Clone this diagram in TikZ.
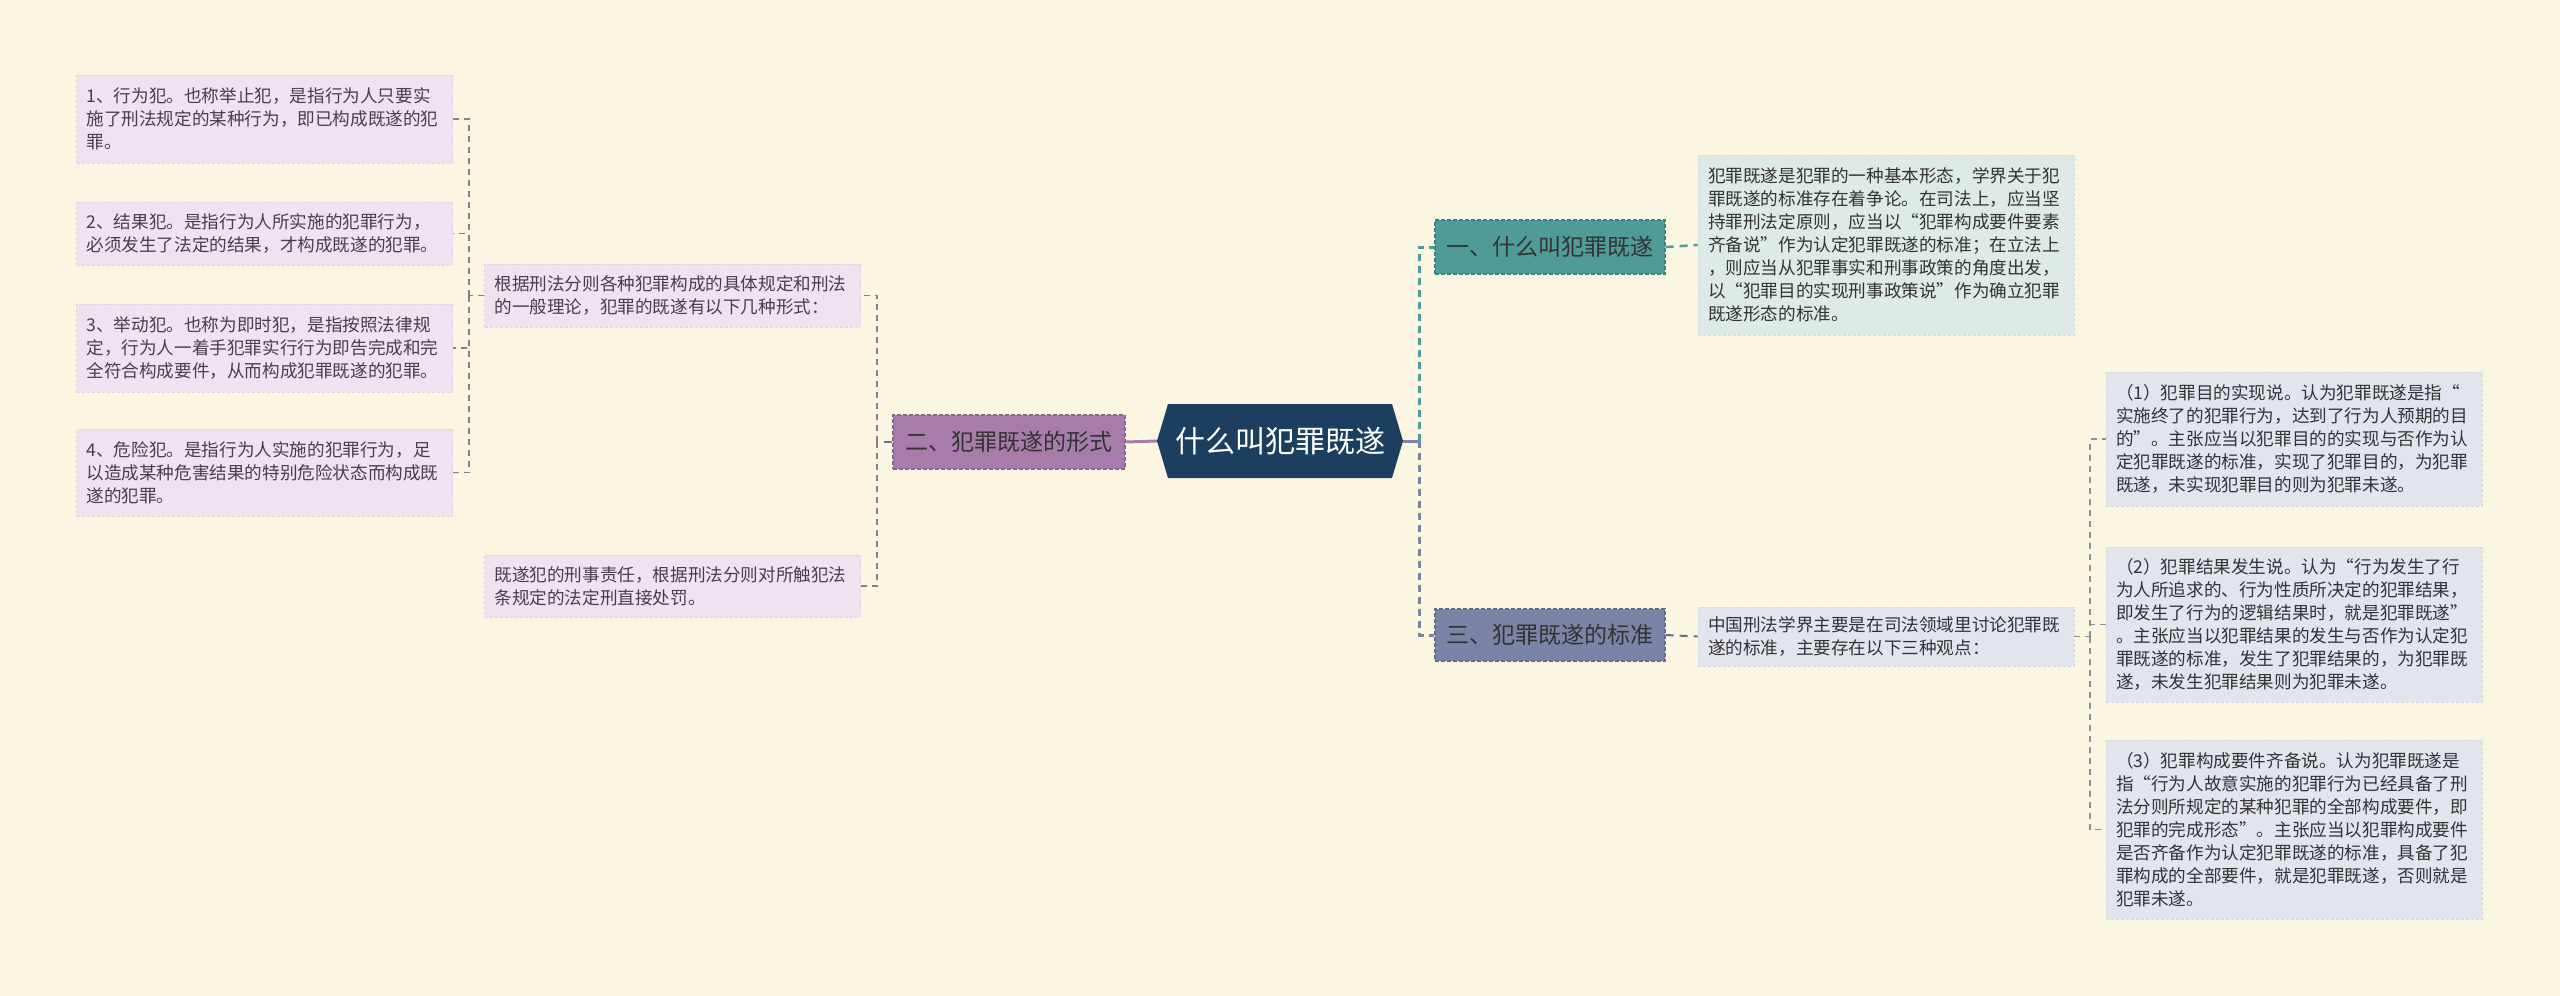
\documentclass[tikz,border=0pt]{standalone}
\usepackage{fontspec}
\setmainfont{Noto Sans CJK SC}
\definecolor{bgc}{HTML}{FBF6E1}
\definecolor{rootc}{HTML}{1C3F5F}
\definecolor{tealb}{HTML}{4F9B98}
\definecolor{teald}{HTML}{3F817E}
\definecolor{slateb}{HTML}{7B84A6}
\definecolor{slated}{HTML}{646D8E}
\definecolor{purpb}{HTML}{A77BAA}
\definecolor{purpd}{HTML}{8C6590}
\definecolor{lavc}{HTML}{EEE3EE}
\definecolor{lavd}{HTML}{E2D3E2}
\definecolor{lavt}{HTML}{4A3D4D}
\definecolor{ltealc}{HTML}{DDEAE8}
\definecolor{lteald}{HTML}{CFDFDD}
\definecolor{greyc}{HTML}{E3E5EE}
\definecolor{greyd}{HTML}{D5D8E3}
\definecolor{darkt}{HTML}{333333}
\definecolor{lconn}{HTML}{8C7B8E}
\definecolor{rconn}{HTML}{8A8F9E}
\begin{document}
\begin{tikzpicture}[x=1pt,y=-1pt,
  leafbase/.style={text width=356pt, inner xsep=10pt, inner ysep=0pt, align=left,
    font=\fontsize{17.6pt}{23pt}\selectfont, dash pattern=on 3pt off 2pt, line width=0.8pt},
  lfleft/.style={leafbase, fill=lavc, draw=lavd, text=lavt},
  lfteal/.style={leafbase, fill=ltealc, draw=lteald, text=darkt},
  lfgrey/.style={leafbase, fill=greyc, draw=greyd, text=darkt},
  branch/.style={minimum width=230pt, inner sep=0pt, font=\fontsize{23pt}{28pt}\selectfont,
    dash pattern=on 4pt off 2pt, line width=1.2pt, text=darkt},
  trunk/.style={line width=3pt, dash pattern=on 7pt off 5pt},
  thin/.style={line width=1.5pt, dash pattern=on 6pt off 5pt}
]
\fill[bgc] (0,0) rectangle (2560,996);
\useasboundingbox (0,0) rectangle (2560,996);

% root
\fill[rootc] (1168,404) -- (1392,404) -- (1403,441) -- (1392,478) -- (1168,478) -- (1157,441) -- cycle;
\node[minimum width=246pt, minimum height=74pt, inner sep=0pt, text=white,
  font=\fontsize{30pt}{34pt}\selectfont] (root) at (1280,441) {什么叫犯罪既遂};

% branches
\node[branch, fill=tealb, draw=teald, minimum height=54pt] (b1) at (1550,247) {一、什么叫犯罪既遂};
\node[branch, fill=slateb, draw=slated, minimum height=52pt] (b3) at (1550,635) {三、犯罪既遂的标准};
\node[branch, fill=purpb, draw=purpd, minimum width=232pt, minimum height=54pt] (b2) at (1009,442) {二、犯罪既遂的形式};

% right leaves
\node[lfteal, minimum height=180pt] (b1c) at (1886,245) {犯罪既遂是犯罪的一种基本形态，学界关于犯\\罪既遂的标准存在着争论。在司法上，应当坚\\持罪刑法定原则，应当以“犯罪构成要件要素\\齐备说”作为认定犯罪既遂的标准；在立法上\\，则应当从犯罪事实和刑事政策的角度出发，\\以“犯罪目的实现刑事政策说”作为确立犯罪\\既遂形态的标准。};
\node[lfgrey, minimum height=59pt] (b3c) at (1886,636.5) {中国刑法学界主要是在司法领域里讨论犯罪既\\遂的标准，主要存在以下三种观点：};
\node[lfgrey, minimum height=134pt] (p1) at (2294,439) {（1）犯罪目的实现说。认为犯罪既遂是指“\\实施终了的犯罪行为，达到了行为人预期的目\\的”。主张应当以犯罪目的的实现与否作为认\\定犯罪既遂的标准，实现了犯罪目的，为犯罪\\既遂，未实现犯罪目的则为犯罪未遂。};
\node[lfgrey, minimum height=155pt] (p2) at (2294,624.5) {（2）犯罪结果发生说。认为“行为发生了行\\为人所追求的、行为性质所决定的犯罪结果，\\即发生了行为的逻辑结果时，就是犯罪既遂”\\。主张应当以犯罪结果的发生与否作为认定犯\\罪既遂的标准，发生了犯罪结果的，为犯罪既\\遂，未发生犯罪结果则为犯罪未遂。};
\node[lfgrey, minimum height=179pt] (p3) at (2294,829.5) {（3）犯罪构成要件齐备说。认为犯罪既遂是\\指“行为人故意实施的犯罪行为已经具备了刑\\法分则所规定的某种犯罪的全部构成要件，即\\犯罪的完成形态”。主张应当以犯罪构成要件\\是否齐备作为认定犯罪既遂的标准，具备了犯\\罪构成的全部要件，就是犯罪既遂，否则就是\\犯罪未遂。};

% left leaves
\node[lfleft, minimum height=63pt] (c2a) at (672.5,295.5) {根据刑法分则各种犯罪构成的具体规定和刑法\\的一般理论，犯罪的既遂有以下几种形式：};
\node[lfleft, minimum height=62pt] (c2b) at (672.5,586) {既遂犯的刑事责任，根据刑法分则对所触犯法\\条规定的法定刑直接处罚。};
\node[lfleft, minimum height=88pt] (i1) at (264.5,119) {1、行为犯。也称举止犯，是指行为人只要实\\施了刑法规定的某种行为，即已构成既遂的犯\\罪。};
\node[lfleft, minimum height=63pt] (i2) at (264.5,233.5) {2、结果犯。是指行为人所实施的犯罪行为，\\必须发生了法定的结果，才构成既遂的犯罪。};
\node[lfleft, minimum height=88pt] (i3) at (264.5,348) {3、举动犯。也称为即时犯，是指按照法律规\\定，行为人一着手犯罪实行行为即告完成和完\\全符合构成要件，从而构成犯罪既遂的犯罪。};
\node[lfleft, minimum height=87pt] (i4) at (264.5,472.5) {4、危险犯。是指行为人实施的犯罪行为，足\\以造成某种危害结果的特别危险状态而构成既\\遂的犯罪。};

% junctions
\coordinate (rj) at (1419,441);
\coordinate (pj) at (2090,636.5);
\coordinate (lj) at (877,442);
\coordinate (ij) at (469,295.5);

% connectors
\draw[slateb, line width=3pt] (root.east) -- (rj);
\draw[tealb, trunk] (rj) |- (b1.west);
\draw[slateb, trunk] (rj) |- (b3.west);
\draw[purpb, line width=3pt] (root.west) -- (b2.east);
\draw[tealb, line width=2.5pt, dash pattern=on 8pt off 6pt] (b1.east) -- (b1c.west);
\draw[slated, line width=2pt, dash pattern=on 8pt off 6pt] (b3.east) -- (b3c.west);
\draw[rconn, thin] (b3c.east) -- (pj);
\draw[rconn, thin] (pj) |- (p1.west);
\draw[rconn, thin] (pj) |- (p2.west);
\draw[rconn, thin] (pj) |- (p3.west);
\draw[purpd, line width=2pt, dash pattern=on 8pt off 6pt] (b2.west) -- (lj);
\draw[lconn, thin] (lj) |- (c2a.east);
\draw[lconn, thin] (lj) |- (c2b.east);
\draw[lconn, thin] (c2a.west) -- (ij);
\draw[lconn, thin] (ij) |- (i1.east);
\draw[lconn, thin] (ij) |- (i2.east);
\draw[lconn, thin] (ij) |- (i3.east);
\draw[lconn, thin] (ij) |- (i4.east);
\end{tikzpicture}
\end{document}
